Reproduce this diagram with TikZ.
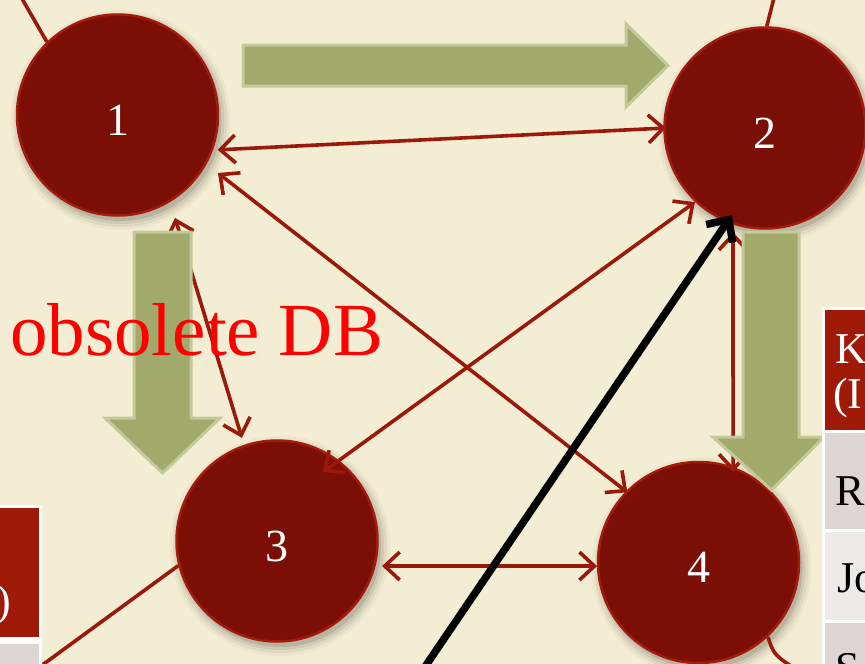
\documentclass[tikz,border=0pt]{standalone}
\usepackage{fontspec}
\setmainfont{Liberation Serif}
\usetikzlibrary{arrows.meta,calc}
\definecolor{bg}{HTML}{F3EDD3}
\definecolor{nodefill}{HTML}{7C0F05}
\definecolor{nodeedge}{HTML}{A51B0B}
\definecolor{linkred}{HTML}{9B190A}
\definecolor{gfill}{HTML}{A1A96B}
\definecolor{gedge}{HTML}{C4C99A}
\definecolor{hdr}{HTML}{A01A08}
\definecolor{rowa}{HTML}{DED5D5}
\definecolor{rowb}{HTML}{EEEAEA}
\tikzset{
  circ/.style={circle, minimum size=201pt, inner sep=0pt, fill=nodefill, draw=nodeedge,
    line width=2.5pt, text=white, font=\fontsize{46}{46}\selectfont},
  link/.style={draw=linkred, line width=3.6pt},
  both/.style={link, {Straight Barb[length=15pt,width=28pt]}-{Straight Barb[length=15pt,width=28pt]}},
  blockarrow/.style={fill=gfill, draw=gedge, line width=3pt, line join=miter},
  celltext/.style={anchor=base west, inner sep=0pt, font=\fontsize{44}{44}\selectfont},
}
\newcommand{\lowdigit}[1]{\raisebox{-5pt}[\height][\depth]{#1}}
\begin{document}
\begin{tikzpicture}[x=1pt,y=-1pt]
\useasboundingbox (0,0) rectangle (865,664);
\clip (0,0) rectangle (865,664);
\fill[bg] (0,0) rectangle (865,664);

% centres
\coordinate (c1) at (117.5,115);
\coordinate (c2) at (765,128);
\coordinate (c3) at (277,541);
\coordinate (c4) at (698.5,562.5);

% soft shadows
\foreach \c in {c1,c2,c3,c4}{
  \foreach \r/\o in {101/0.10,104/0.07,107/0.05,110/0.03}{
    \fill[black,opacity=\o] ($(\c)+(3,5)$) circle (\r pt);
  }
}

% circles
\node[circ] (n1) at (c1) {\lowdigit{1}};
\node[circ] (n2) at (c2) {\lowdigit{2}};
\node[circ] (n3) at (c3) {\lowdigit{3}};
\node[circ] (n4) at (c4) {\lowdigit{4}};

% lines leaving the picture
\coordinate (o1) at (17,-10);
\coordinate (o2) at (776,-10);
\coordinate (o3) at (30,674);
\coordinate (o4) at (800,672);
\draw[link] (n1.134) -- (o1);
\draw[link] (n2.89) -- (o2);
\draw[link] (n3.194) -- (o3);
\draw[link] (n4.-47) .. controls (774,655) .. (o4);

% red double arrows
\draw[both] ($(n1.center)+(-19.2:106pt)$) -- ($(n2.center)+(180:99pt)$);
\draw[both] ($(n1.center)+(-30:116pt)$) -- ($(n4.center)+(135.4:100pt)$);
\draw[both] ($(n1.center)+(-60.8:118pt)$) -- ($(n3.center)+(108.8:109pt)$);
\draw[both] ($(n2.center)+(-133.4:102pt)$) -- ($(n3.center)+(56.3:83pt)$);
\draw[both] ($(n2.center)+(-107.1:109pt)$) -- ($(n4.center)+(69.1:97pt)$);
\draw[both] ($(n3.center)+(-13.4:108pt)$) -- ($(n4.center)+(182:101.5pt)$);

% green block arrows
\draw[blockarrow] (243,45) -- (626,45) -- (626,24) -- (668,65.5) -- (626,107) -- (626,86) -- (243,86) -- cycle;
\draw[blockarrow] (134,232) -- (191,232) -- (191,418) -- (220,418) -- (162.5,473) -- (105,418) -- (134,418) -- cycle;
\draw[blockarrow] (743,232) -- (799,232) -- (799,437) -- (824,437) -- (771.5,490) -- (713,437) -- (743,437) -- cycle;

% black arrow
\coordinate (bs) at (416,680);
\draw[line width=7.5pt, black, -{Straight Barb[length=17pt,width=32pt]}] (bs) -- ($(n2.center)+(-110.8:93pt)$);

% label
\node[anchor=base west, inner sep=0pt, text=red, font=\fontsize{75}{75}\selectfont] (obs) at (10,355) {obsolete DB};

% right table
\fill[white] (822,307) rectangle (870,670);
\fill[hdr] (825,310) rectangle (870,430);
\fill[rowa] (825,433) rectangle (870,529);
\fill[rowb] (825,532) rectangle (870,620);
\fill[rowa] (825,623) rectangle (870,670);
\node[celltext, text=white] (k1) at (835,363) {K};
\node[celltext, text=white] (k2) at (833,408) {(I};
\node[celltext] (r1) at (835,505) {R};
\node[celltext] (r2) at (837,592) {Jo};
\node[celltext] (r3) at (835,682) {S};

% left table
\fill[white] (-5,505) rectangle (42,670);
\fill[hdr] (-5,508) rectangle (39,637);
\fill[rowa] (-5,644) rectangle (39,670);
\node[celltext, anchor=base east, text=white] (lp) at (11,615) {)};
\end{tikzpicture}
\end{document}
